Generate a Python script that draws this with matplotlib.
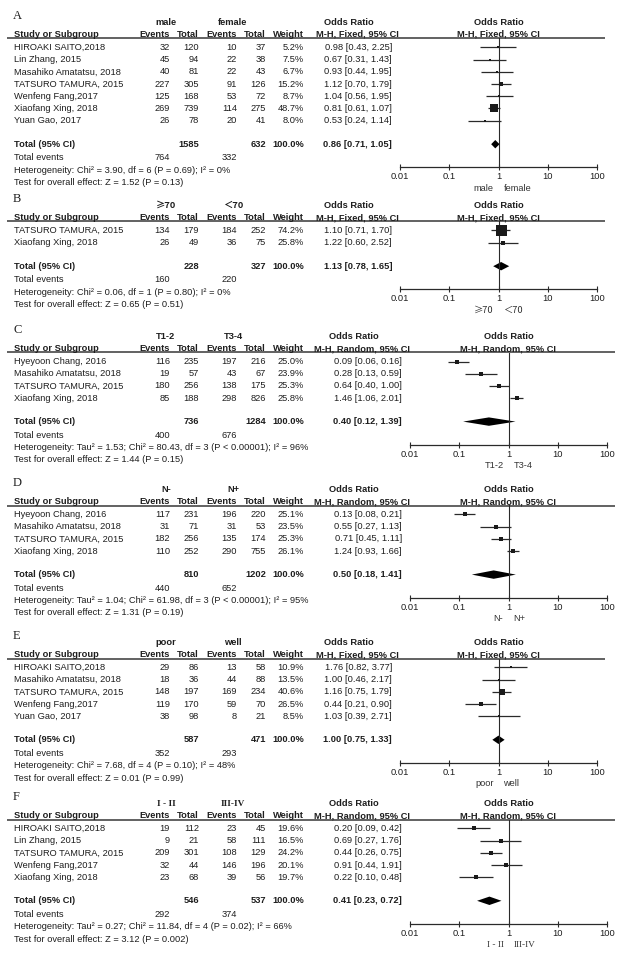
import matplotlib
matplotlib.use("Agg")
import matplotlib.pyplot as plt
from matplotlib.ticker import NullLocator

# ---------------- DATA ----------------
panel_labels = ["A", "B", "C", "D", "E", "F"]
group1 = ["male", "≥70", "T1-2", "N-", "poor", "I - II"]
group2 = ["female", "＜70", "T3-4", "N+", "well", "III-IV"]
methods = ["Fixed", "Fixed", "Random", "Random", "Fixed", "Random"]

studies_A = ["HIROAKI SAITO,2018", "Lin Zhang, 2015", "Masahiko Amatatsu, 2018", "TATSURO TAMURA, 2015",
             "Wenfeng Fang,2017", "Xiaofang Xing, 2018", "Yuan Gao, 2017"]
ev1_A = [32, 45, 40, 227, 125, 269, 26]
tot1_A = [120, 94, 81, 305, 168, 739, 78]
ev2_A = [10, 22, 22, 91, 53, 114, 20]
tot2_A = [37, 38, 43, 126, 72, 275, 41]
w_A = [5.2, 7.5, 6.7, 15.2, 8.7, 48.7, 8.0]
or_A = [0.98, 0.67, 0.93, 1.12, 1.04, 0.81, 0.53]
lo_A = [0.43, 0.31, 0.44, 0.70, 0.56, 0.61, 0.24]
hi_A = [2.25, 1.43, 1.95, 1.79, 1.95, 1.07, 1.14]

studies_B = ["TATSURO TAMURA, 2015", "Xiaofang Xing, 2018"]
ev1_B = [134, 26]
tot1_B = [179, 49]
ev2_B = [184, 36]
tot2_B = [252, 75]
w_B = [74.2, 25.8]
or_B = [1.10, 1.22]
lo_B = [0.71, 0.60]
hi_B = [1.70, 2.52]

studies_C = ["Hyeyoon Chang, 2016", "Masahiko Amatatsu, 2018", "TATSURO TAMURA, 2015", "Xiaofang Xing, 2018"]
ev1_C = [116, 19, 180, 85]
tot1_C = [235, 57, 256, 188]
ev2_C = [197, 43, 138, 298]
tot2_C = [216, 67, 175, 826]
w_C = [25.0, 23.9, 25.3, 25.8]
or_C = [0.09, 0.28, 0.64, 1.46]
lo_C = [0.06, 0.13, 0.40, 1.06]
hi_C = [0.16, 0.59, 1.00, 2.01]

studies_D = ["Hyeyoon Chang, 2016", "Masahiko Amatatsu, 2018", "TATSURO TAMURA, 2015", "Xiaofang Xing, 2018"]
ev1_D = [117, 31, 182, 110]
tot1_D = [231, 71, 256, 252]
ev2_D = [196, 31, 135, 290]
tot2_D = [220, 53, 174, 755]
w_D = [25.1, 23.5, 25.3, 26.1]
or_D = [0.13, 0.55, 0.71, 1.24]
lo_D = [0.08, 0.27, 0.45, 0.93]
hi_D = [0.21, 1.13, 1.11, 1.66]

studies_E = ["HIROAKI SAITO,2018", "Masahiko Amatatsu, 2018", "TATSURO TAMURA, 2015", "Wenfeng Fang,2017",
             "Yuan Gao, 2017"]
ev1_E = [29, 18, 148, 119, 38]
tot1_E = [86, 36, 197, 170, 98]
ev2_E = [13, 44, 169, 59, 8]
tot2_E = [58, 88, 234, 70, 21]
w_E = [10.9, 13.5, 40.6, 26.5, 8.5]
or_E = [1.76, 1.00, 1.16, 0.44, 1.03]
lo_E = [0.82, 0.46, 0.75, 0.21, 0.39]
hi_E = [3.77, 2.17, 1.79, 0.90, 2.71]

studies_F = ["HIROAKI SAITO,2018", "Lin Zhang, 2015", "TATSURO TAMURA, 2015", "Wenfeng Fang,2017",
             "Xiaofang Xing, 2018"]
ev1_F = [19, 9, 209, 32, 23]
tot1_F = [112, 21, 301, 44, 68]
ev2_F = [23, 58, 108, 146, 39]
tot2_F = [45, 111, 129, 196, 56]
w_F = [19.6, 16.5, 24.2, 20.1, 19.7]
or_F = [0.20, 0.69, 0.44, 0.91, 0.22]
lo_F = [0.09, 0.27, 0.26, 0.44, 0.10]
hi_F = [0.42, 1.76, 0.75, 1.91, 0.48]

total1 = [1585, 228, 736, 810, 587, 546]
total2 = [632, 327, 1284, 1202, 471, 537]
tot_events1 = [764, 160, 400, 440, 352, 292]
tot_events2 = [332, 220, 676, 652, 293, 374]
pooled_or = [0.86, 1.13, 0.40, 0.50, 1.00, 0.41]
pooled_lo = [0.71, 0.78, 0.12, 0.18, 0.75, 0.23]
pooled_hi = [1.05, 1.65, 1.39, 1.41, 1.33, 0.72]
heterogeneity = [
    "Heterogeneity: Chi² = 3.90, df = 6 (P = 0.69); I² = 0%",
    "Heterogeneity: Chi² = 0.06, df = 1 (P = 0.80); I² = 0%",
    "Heterogeneity: Tau² = 1.53; Chi² = 80.43, df = 3 (P < 0.00001); I² = 96%",
    "Heterogeneity: Tau² = 1.04; Chi² = 61.98, df = 3 (P < 0.00001); I² = 95%",
    "Heterogeneity: Chi² = 7.68, df = 4 (P = 0.10); I² = 48%",
    "Heterogeneity: Tau² = 0.27; Chi² = 11.84, df = 4 (P = 0.02); I² = 66%",
]
overall = [
    "Test for overall effect: Z = 1.52 (P = 0.13)",
    "Test for overall effect: Z = 0.65 (P = 0.51)",
    "Test for overall effect: Z = 1.44 (P = 0.15)",
    "Test for overall effect: Z = 1.31 (P = 0.19)",
    "Test for overall effect: Z = 0.01 (P = 0.99)",
    "Test for overall effect: Z = 3.12 (P = 0.002)",
]
tick_vals = [0.01, 0.1, 1, 10, 100]
tick_labels = ["0.01", "0.1", "1", "10", "100"]

panels = [
    (studies_A, ev1_A, tot1_A, ev2_A, tot2_A, w_A, or_A, lo_A, hi_A),
    (studies_B, ev1_B, tot1_B, ev2_B, tot2_B, w_B, or_B, lo_B, hi_B),
    (studies_C, ev1_C, tot1_C, ev2_C, tot2_C, w_C, or_C, lo_C, hi_C),
    (studies_D, ev1_D, tot1_D, ev2_D, tot2_D, w_D, or_D, lo_D, hi_D),
    (studies_E, ev1_E, tot1_E, ev2_E, tot2_E, w_E, or_E, lo_E, hi_E),
    (studies_F, ev1_F, tot1_F, ev2_F, tot2_F, w_F, or_F, lo_F, hi_F),
]

# ---------------- LAYOUT ----------------
W, H = 621, 955
FS = 6.7
TXT = "#1e1e1e"
LINE = "#2a2a2a"
SANS = ["Liberation Sans", "DejaVu Sans"]
SERIF = ["Liberation Serif", "DejaVu Serif"]
CJK = ["Noto Sans CJK SC", "DejaVu Sans"]
panel_top = [16, 199, 330, 483, 636, 797]
ROW = 12.2

fig = plt.figure(figsize=(W / 100, H / 100), dpi=100)
bg = fig.add_axes([0, 0, 1, 1])
bg.set_xlim(0, W)
bg.set_ylim(H, 0)
bg.axis("off")


def T(x, y, s, ha="left", bold=False, family=None, size=FS, color=TXT):
    bg.text(x, y, s, ha=ha, va="center", fontsize=size,
            fontweight="bold" if bold else "normal",
            family=family or SANS, color=color)


def gfam(s):
    if s.replace("I", "").replace("V", "").replace("-", "").strip() == "":
        return SERIF
    if "≥" in s or "＜" in s:
        return CJK
    return SANS


for p in range(6):
    studies, e1, t1, e2, t2, w, orr, lo, hi = panels[p]
    L = panel_top[p]
    rnd = methods[p] == "Random"
    sh = 10 if rnd else 0
    c_e1, c_t1, c_e2, c_t2, c_w = 170, 199, 237, 266, 304
    c_or = 392 + sh
    px0, px1 = 400 + sh, 597 + sh
    y_grp = L + 6.5
    y_head = L + 18.5
    y_ul = L + 22.5
    rows = [L + 31.5 + i * ROW for i in range(len(studies))]
    y_tot = rows[-1] + 23.5
    y_ev = y_tot + 13.5
    y_het = y_ev + 12.5
    y_test = y_het + 12.2
    y_axis = y_tot + 23

    # panel label
    T(13, L, panel_labels[p], family=SERIF, size=9)
    # group headers
    T(166, y_grp, group1[p], ha="center", bold=True, family=gfam(group1[p]))
    T(233, y_grp, group2[p], ha="center", bold=True, family=gfam(group2[p]))
    T(349 + sh / 2, y_grp, "Odds Ratio", ha="center", bold=True)
    T((px0 + px1) / 2, y_grp, "Odds Ratio", ha="center", bold=True)
    # column header
    mh = "M-H, %s, 95%% CI" % methods[p]
    T(14, y_head, "Study or Subgroup", bold=True)
    T(c_e1, y_head, "Events", ha="right", bold=True)
    T(c_t1, y_head, "Total", ha="right", bold=True)
    T(c_e2, y_head, "Events", ha="right", bold=True)
    T(c_t2, y_head, "Total", ha="right", bold=True)
    T(c_w, y_head, "Weight", ha="right", bold=True)
    T(357 + sh / 2, y_head, mh, ha="center", bold=True)
    T((px0 + px1) / 2, y_head, mh, ha="center", bold=True)
    bg.plot([7, px1 + 8], [y_ul, y_ul], color="#555555", lw=1.3, solid_capstyle="butt")

    # study rows
    for i, s in enumerate(studies):
        y = rows[i]
        T(14, y, s)
        T(c_e1, y, str(e1[i]), ha="right")
        T(c_t1, y, str(t1[i]), ha="right")
        T(c_e2, y, str(e2[i]), ha="right")
        T(c_t2, y, str(t2[i]), ha="right")
        T(c_w, y, "%.1f%%" % w[i], ha="right")
        T(c_or, y, "%.2f [%.2f, %.2f]" % (orr[i], lo[i], hi[i]), ha="right")
    T(14, y_tot, "Total (95% CI)", bold=True)
    T(c_t1, y_tot, str(total1[p]), ha="right", bold=True)
    T(c_t2, y_tot, str(total2[p]), ha="right", bold=True)
    T(c_w, y_tot, "100.0%", ha="right", bold=True)
    T(c_or, y_tot, "%.2f [%.2f, %.2f]" % (pooled_or[p], pooled_lo[p], pooled_hi[p]), ha="right", bold=True)
    T(14, y_ev, "Total events")
    T(c_e1, y_ev, str(tot_events1[p]), ha="right")
    T(c_e2, y_ev, str(tot_events2[p]), ha="right")
    T(14, y_het, heterogeneity[p])
    T(14, y_test, overall[p])

    # forest axes (y in pixel units, inverted)
    ax = fig.add_axes([px0 / W, 1 - y_axis / H, (px1 - px0) / W, (y_axis - y_ul) / H])
    ax.patch.set_alpha(0)
    ax.set_xscale("log")
    ax.set_xlim(0.01, 100)
    ax.set_ylim(y_axis, y_ul)
    for k in ["top", "left", "right"]:
        ax.spines[k].set_visible(False)
    ax.spines["bottom"].set_color(LINE)
    ax.spines["bottom"].set_linewidth(0.9)
    ax.set_yticks([])
    ax.set_xticks(tick_vals)
    ax.set_xticklabels(tick_labels, family=SANS, fontsize=FS, color=TXT)
    ax.xaxis.set_minor_locator(NullLocator())
    ax.tick_params(axis="x", direction="inout", length=5, width=0.8, pad=1.2, colors=LINE)
    for lab in ax.get_xticklabels():
        lab.set_color(TXT)
    ax.axvline(1, color=LINE, lw=0.8)
    for i in range(len(studies)):
        ax.hlines(rows[i], lo[i], hi[i], color=LINE, lw=0.9, clip_on=False)
        side_px = max(2.0, 11.0 * (w[i] / 74.2) ** 0.8)
        ax.plot(orr[i], rows[i], marker="s", ms=side_px * 0.72, color="#1a1a1a",
                mec="#1a1a1a", mew=0, clip_on=False)
    dh = 4.2
    ax.fill([pooled_lo[p], pooled_or[p], pooled_hi[p], pooled_or[p]],
            [y_tot, y_tot - dh, y_tot, y_tot + dh], color="#000000", lw=0)

    # group labels under axis
    xc = px0 + (px1 - px0) / 2
    y_gl = y_axis + 21
    T(xc - 5, y_gl, group1[p], ha="right", family=gfam(group1[p]), color="#333333")
    T(xc + 5, y_gl, group2[p], ha="left", family=gfam(group2[p]), color="#333333")

fig.savefig("out.png", dpi=100, facecolor="white")
